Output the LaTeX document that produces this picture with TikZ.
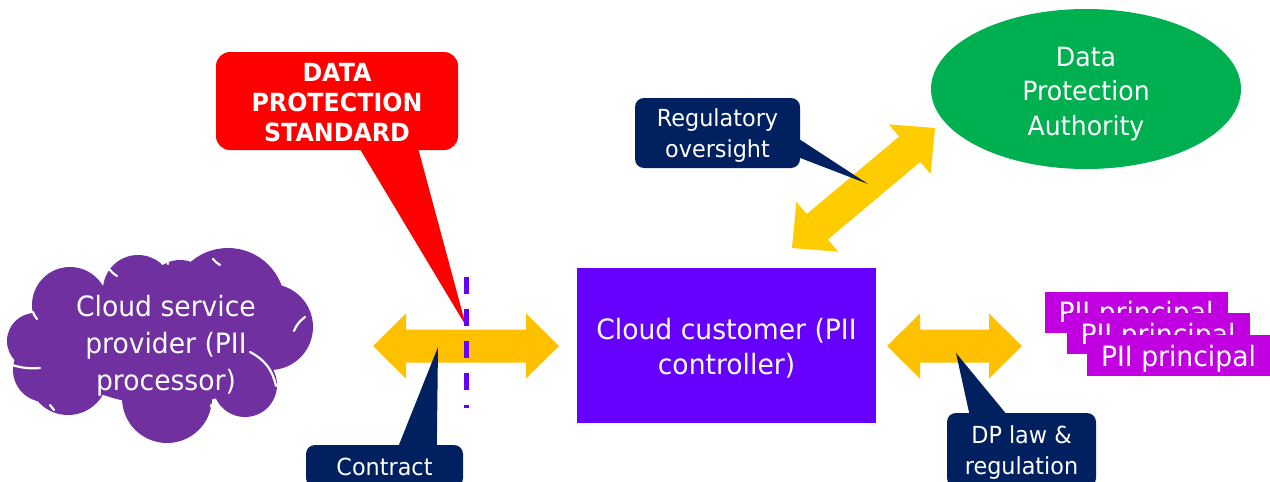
\documentclass[tikz,border=0pt]{standalone}
\usepackage{fontspec}
\setmainfont{DejaVu Sans}[FakeStretch=0.95]
\usetikzlibrary{calc,shapes.geometric}
\definecolor{cloudc}{HTML}{7030A0}
\definecolor{custc}{HTML}{6600FF}
\definecolor{navyc}{HTML}{002060}
\definecolor{greenc}{HTML}{00B050}
\definecolor{orangec}{HTML}{FFC000}
\definecolor{yellowc}{HTML}{FFCC00}
\definecolor{magc}{HTML}{C000E0}
\definecolor{redc}{HTML}{FF0000}
\newcommand{\blockarrow}[3]{%
  \fill[#1] (#2)
  -- ($($(#2)!33pt!(#3)$)!32.5pt!90:(#3)$)
  -- ($($(#2)!33pt!(#3)$)!16.5pt!90:(#3)$)
  -- ($($(#3)!33pt!(#2)$)!16.5pt!-90:(#2)$)
  -- ($($(#3)!33pt!(#2)$)!32.5pt!-90:(#2)$)
  -- (#3)
  -- ($($(#3)!33pt!(#2)$)!32.5pt!90:(#2)$)
  -- ($($(#3)!33pt!(#2)$)!16.5pt!90:(#2)$)
  -- ($($(#2)!33pt!(#3)$)!16.5pt!-90:(#3)$)
  -- ($($(#2)!33pt!(#3)$)!32.5pt!-90:(#3)$)
  -- cycle;}
\begin{document}
\begin{tikzpicture}[x=1pt,y=-1pt,
  lbl/.style={text=white, align=center, inner sep=0pt},
  bigtxt/.style={font=\fontsize{28}{35}\selectfont},
  calltxt/.style={font=\fontsize{23.5}{31}\selectfont},
  callbox/.style={fill=navyc, rounded corners=9pt, inner sep=0pt},
  pii/.style={fill=magc, minimum width=183pt, minimum height=41pt, inner sep=0pt},
  seam/.style={draw=white, line width=2.2pt, line cap=round},
]
\useasboundingbox (0,0) rectangle (1270,482);
\fill[white] (0,0) rectangle (1270,482);

% cloud
\fill[cloudc] (165,340) ellipse [x radius=115, y radius=65];
\fill[cloudc] (35,341) circle [radius=28];
\fill[cloudc] (70,305) circle [radius=38];
\fill[cloudc] (138,290) circle [radius=35];
\fill[cloudc] (180,292) circle [radius=32];
\fill[cloudc] (228,305) circle [radius=57];
\fill[cloudc] (270,327) circle [radius=43];
\fill[cloudc] (245,385) circle [radius=32];
\fill[cloudc] (167,398) circle [radius=45];
\fill[cloudc] (68,375) circle [radius=40];
\fill[cloudc] (45,370) circle [radius=32];
\draw[seam] (250,352) to[bend left=25] (276,386);
\draw[seam] (305,317) to[bend right=15] (294,331);
\draw[seam] (12,365) to[bend right=10] (40,368);
\draw[seam] (117,417) to[bend left=10] (122,428);
\draw[seam] (211,405) to[bend left=10] (213,418);
\draw[seam] (165,256) to[bend left=10] (168,264);
\draw[seam] (213,259) to[bend right=10] (220,265);
\draw[seam] (110,270) to[bend right=10] (117,276);
\draw[seam] (280,273) to[bend left=10] (287,278);
\draw[seam] (33,312) to[bend right=10] (37,319);
\draw[seam] (50,405) to[bend right=10] (54,410);
\node[lbl, font=\fontsize{28}{37}\selectfont] (csp) at (166,346) {Cloud service\\provider (PII\\processor)};

% red callout
\node[fill=redc, rounded corners=14pt, minimum width=242pt, minimum height=98pt, inner sep=0pt] (dps) at (337,101) {};
\node[lbl, font=\bfseries\fontsize{25}{30}\selectfont] (dpst) at ([yshift=-2pt]dps.center) {DATA\\PROTECTION\\STANDARD};
\coordinate (dpstip) at (466,326);
\fill[redc] ($(dps.south west)+(143,-3)$) -- (dpstip) -- ($(dps.south west)+(202,-3)$) -- cycle;

% customer box, authority, principals
\node[fill=custc, minimum width=299pt, minimum height=155pt, inner sep=0pt] (cc) at (726.5,345.5) {};
\node[lbl, bigtxt] (cct) at ([yshift=-3pt]cc.center) {Cloud customer (PII\\controller)};
\node[ellipse, fill=greenc, minimum width=310pt, minimum height=160pt, inner sep=0pt] (dpa) at (1086,89) {};
\node[lbl, font=\fontsize{26.5}{34.5}\selectfont] (dpat) at ([yshift=-5pt]dpa.center) {Data\\Protection\\Authority};
\node[pii] (p1) at (1136,312) {};
\node[lbl, bigtxt] (p1t) at ([yshift=-3pt]p1.center) {PII principal};
\node[pii] (p2) at (1158,333.5) {};
\node[lbl, bigtxt] (p2t) at ([yshift=-3pt]p2.center) {PII principal};
\node[pii] (p3) at (1178.5,355.5) {};
\node[lbl, bigtxt] (p3t) at ([yshift=-3pt]p3.center) {PII principal};

% block arrows
\coordinate (la) at (373,346);
\coordinate (lb) at (559,346);
\coordinate (ra) at (887,346);
\coordinate (rb) at (1022,346);
\coordinate (da) at (792,248);
\coordinate (db) at (935,128);
\blockarrow{orangec}{la}{lb}
\blockarrow{orangec}{ra}{rb}
\blockarrow{yellowc}{da}{db}

% navy callouts
\node[callbox, minimum width=165pt, minimum height=70pt] (reg) at (717.5,133) {};
\node[lbl, calltxt] (regt) at ([yshift=-3pt]reg.center) {Regulatory\\oversight};
\coordinate (regtip) at (868,184);
\fill[navyc] ($(reg.north east)+(-3,40)$) -- (regtip) -- ($(reg.north east)+(-3,59)$) -- cycle;

\node[callbox, minimum width=157pt, minimum height=42pt] (con) at (384.5,466) {};
\node[lbl, calltxt] (cont) at ([yshift=-1pt]con.center) {Contract};
\coordinate (contip) at (438,347);
\fill[navyc] ($(con.north west)+(92,3)$) -- (contip) -- ($(con.north west)+(131,3)$) -- cycle;

\node[callbox, minimum width=149pt, minimum height=74pt] (dpl) at (1021.5,450) {};
\node[lbl, calltxt] (dplt) at ([yshift=-3pt]dpl.center) {DP law \&\\regulation};
\coordinate (dpltip) at (956,353);
\fill[navyc] ($(dpl.north west)+(23,3)$) -- (dpltip) -- ($(dpl.north west)+(61,3)$) -- cycle;

% dashed boundary
\coordinate (dtop) at (466,277);
\coordinate (dbot) at (466,408);
\draw[custc, line width=5pt, dash pattern=on 17pt off 15pt] (dtop) -- (dbot);
\end{tikzpicture}
\end{document}
